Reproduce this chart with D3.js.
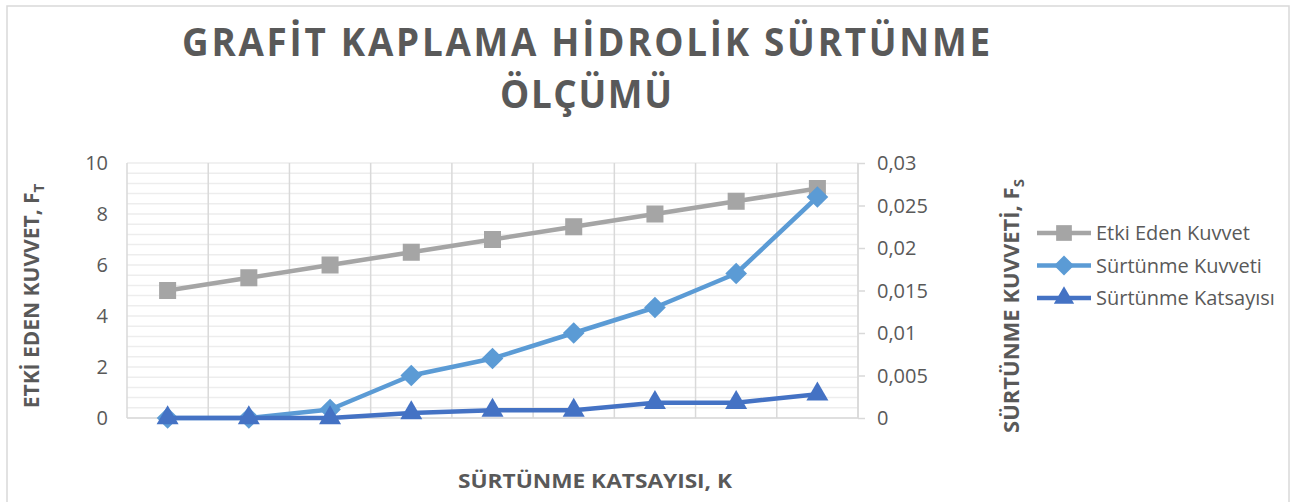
<!DOCTYPE html>
<html>
<head>
<meta charset="utf-8">
<script src="https://cdn.jsdelivr.net/npm/d3@7/dist/d3.min.js"></script>
<style>
  html, body { margin: 0; padding: 0; background: #ffffff; }
  svg { display: block; }
  text { font-family: "Open Sans", "DejaVu Sans", sans-serif; fill: #595959; }
</style>
</head>
<body>
<svg id="chart" width="1298" height="502"></svg>
<script>
// Measurement points (9 steps)
const categories = ["1", "2", "3", "4", "5", "6", "7", "8", "9"];
// Applied force, primary axis
const etkiEdenKuvvet = [5, 5.5, 6, 6.5, 7, 7.5, 8, 8.5, 9];
// Friction force, secondary axis
const surtunmeKuvveti = [0, 0, 0.001, 0.005, 0.007, 0.010, 0.013, 0.017, 0.026];
// Friction coefficient, secondary axis
const surtunmeKatsayisi = [0, 0, 0, 0.0006, 0.0009, 0.0009, 0.0018, 0.0018, 0.0028];

const leftTicks = [0, 2, 4, 6, 8, 10];
const rightTicks = [0, 0.005, 0.01, 0.015, 0.02, 0.025, 0.03];
const rightTickLabels = ["0", "0,005", "0,01", "0,015", "0,02", "0,025", "0,03"];
const seriesNames = ["Etki Eden Kuvvet", "Sürtünme Kuvveti", "Sürtünme Katsayısı"];

const svg = d3.select("#chart");

// Outer chart frame
svg.append("rect")
  .attr("x", 7).attr("y", 6).attr("width", 1282).attr("height", 520)
  .attr("fill", "#ffffff").attr("stroke", "#d9d9d9").attr("stroke-width", 1.5);

const plot = { left: 127, right: 858, top: 163, bottom: 418 };

const x = d3.scaleBand().domain(categories).range([plot.left, plot.right]).paddingInner(0).paddingOuter(0);
const yL = d3.scaleLinear().domain([0, 10]).range([plot.bottom, plot.top]);
const yR = d3.scaleLinear().domain([0, 0.03]).range([plot.bottom, plot.top]);

// Minor horizontal gridlines
const minorTicks = d3.range(0, 10.0001, 0.4);
svg.append("g").selectAll("line").data(minorTicks).join("line")
  .attr("x1", plot.left).attr("x2", plot.right)
  .attr("y1", d => yL(d)).attr("y2", d => yL(d))
  .attr("stroke", "#ededed").attr("stroke-width", 1.5);

// Vertical category gridlines
const vLines = categories.map(c => x(c)).concat([plot.right]);
svg.append("g").selectAll("line").data(vLines).join("line")
  .attr("x1", d => d).attr("x2", d => d)
  .attr("y1", plot.top).attr("y2", plot.bottom)
  .attr("stroke", "#d9d9d9").attr("stroke-width", 1.5);

// Bottom axis line
svg.append("line")
  .attr("x1", plot.left).attr("x2", plot.right)
  .attr("y1", plot.bottom).attr("y2", plot.bottom)
  .attr("stroke", "#d9d9d9").attr("stroke-width", 1.5);

// Left axis labels
const leftAxis = d3.axisLeft(yL).tickValues(leftTicks).tickSize(0).tickPadding(19);
const gL = svg.append("g").attr("transform", `translate(${plot.left},0)`).call(leftAxis);
gL.select(".domain").remove();
gL.selectAll("text").style("font-size", "20px").attr("fill", "#595959").attr("dy", "0.34em");

// Right axis with outward ticks
const rightAxis = d3.axisRight(yR).tickValues(rightTicks)
  .tickFormat((d, i) => rightTickLabels[i]).tickSize(7).tickPadding(12);
const gR = svg.append("g").attr("transform", `translate(${plot.right},0)`).call(rightAxis);
gR.select(".domain").attr("stroke", "#d9d9d9").attr("stroke-width", 1.5).attr("d", `M0,${plot.top}V${plot.bottom}`);
gR.selectAll(".tick line").attr("stroke", "#d9d9d9").attr("stroke-width", 1.5);
gR.selectAll("text").style("font-size", "20px").attr("fill", "#595959").attr("dy", "0.34em");

// Series definitions
const cx = (d, i) => x(categories[i]) + x.bandwidth() / 2;
const series = [
  { name: seriesNames[0], values: etkiEdenKuvvet, y: yL, color: "#a5a5a5", symbol: d3.symbolSquare, size: 290 },
  { name: seriesNames[1], values: surtunmeKuvveti, y: yR, color: "#5b9bd5", symbol: d3.symbolDiamond2, size: 300 },
  { name: seriesNames[2], values: surtunmeKatsayisi, y: yR, color: "#4472c4", symbol: d3.symbolTriangle, size: 210 }
];

series.forEach(s => {
  const line = d3.line().x(cx).y(d => s.y(d));
  svg.append("path").datum(s.values)
    .attr("d", line).attr("fill", "none")
    .attr("stroke", s.color).attr("stroke-width", 4.5).attr("stroke-linejoin", "round");
  svg.append("g").selectAll("path").data(s.values).join("path")
    .attr("transform", (d, i) => `translate(${cx(d, i)},${s.y(d)})`)
    .attr("d", d3.symbol().type(s.symbol).size(s.size))
    .attr("fill", s.color);
});

// Title: slightly narrowed glyphs with letter spacing
const squeeze = 0.92;
const title = svg.append("g")
  .style("font-weight", "700").style("font-size", "40px");
title.append("text").attr("transform", `translate(586,56) scale(${squeeze},1)`)
  .attr("text-anchor", "middle")
  .attr("textLength", 808 / squeeze).attr("lengthAdjust", "spacing")
  .text("GRAFİT KAPLAMA HİDROLİK SÜRTÜNME");
title.append("text").attr("transform", `translate(586,108) scale(${squeeze},1)`)
  .attr("text-anchor", "middle")
  .attr("textLength", 172 / squeeze).attr("lengthAdjust", "spacing")
  .text("ÖLÇÜMÜ");

// Axis titles
svg.append("text").attr("x", 595).attr("y", 488).attr("text-anchor", "middle")
  .style("font-weight", "700").style("font-size", "20px")
  .attr("textLength", 274).attr("lengthAdjust", "spacingAndGlyphs")
  .text("SÜRTÜNME KATSAYISI, K");

const lt = svg.append("text").attr("transform", "translate(39,296) rotate(-90)")
  .attr("text-anchor", "middle").style("font-weight", "700").style("font-size", "21px");
lt.append("tspan").text("ETKİ EDEN KUVVET, F");
lt.append("tspan").attr("dy", 5).style("font-size", "15px").text("T");

const rt = svg.append("text").attr("transform", "translate(1019,306) rotate(-90)")
  .attr("text-anchor", "middle").style("font-weight", "700").style("font-size", "22px");
rt.append("tspan").text("SÜRTÜNME KUVVETİ, F");
rt.append("tspan").attr("dy", 5).style("font-size", "15px").text("S");

// Legend
const legend = svg.append("g");
series.forEach((s, i) => {
  const ly = 233 + i * 32.5;
  legend.append("line").attr("x1", 1037).attr("x2", 1091).attr("y1", ly).attr("y2", ly)
    .attr("stroke", s.color).attr("stroke-width", 4.5);
  legend.append("path").attr("transform", `translate(1064,${ly})`)
    .attr("d", d3.symbol().type(s.symbol).size(s.size * 0.85)).attr("fill", s.color);
  legend.append("text").attr("x", 1096).attr("y", ly).attr("dy", "0.35em")
    .style("font-size", "20px").text(s.name);
});
</script>
</body>
</html>
